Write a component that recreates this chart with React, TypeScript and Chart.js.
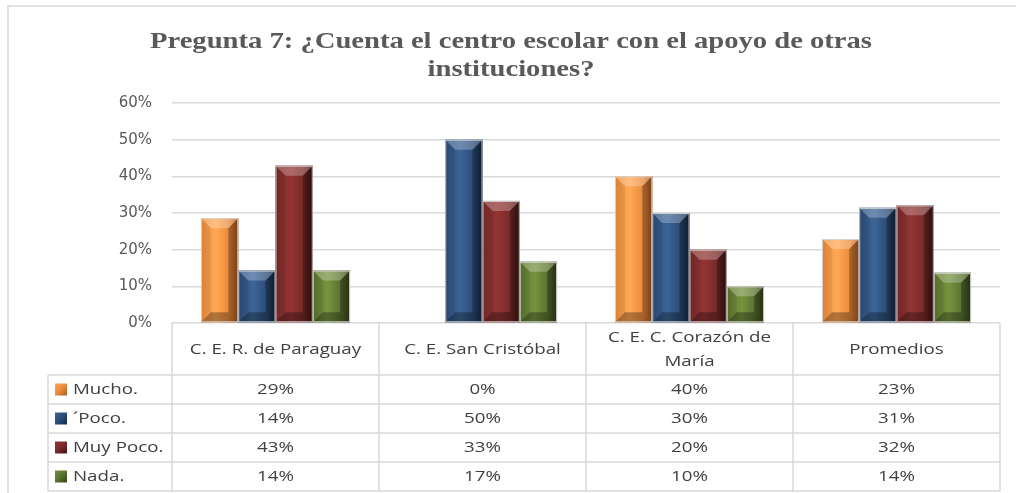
import React, { useEffect, useRef } from "react";
import { Chart, registerables } from "chart.js";

Chart.register(...registerables);

const titleLines = ["Pregunta 7: ¿Cuenta el centro escolar con el apoyo de otras", "instituciones?"];
const categories = ["C. E. R. de Paraguay", "C. E. San Cristóbal", "C. E. C. Corazón de María", "Promedios"];
const headerLines = [["C. E. R. de Paraguay"], ["C. E. San Cristóbal"], ["C. E. C. Corazón de", "María"], ["Promedios"]];
const seriesNames = ["Mucho.", "´Poco.", "Muy Poco.", "Nada."];
const mucho = [28.6, 0, 40, 22.9];
const poco = [14.3, 50, 30, 31.4];
const muyPoco = [42.9, 33.3, 20, 32.1];
const nada = [14.3, 16.7, 10, 13.7];
const yMin = 0;
const yMax = 60;
const yStep = 10;

const palette = [
  { base: "#EB8A3C", light: "#FFA955", dark: "#A85A22" },
  { base: "#2B4C78", light: "#3D6597", dark: "#152840" },
  { base: "#772A29", light: "#923534", dark: "#3E1212" },
  { base: "#5A7230", light: "#77943F", dark: "#34431A" },
];

const FONT = "'Open Sans', 'DejaVu Sans', sans-serif";
const TICK_FONT = "'DejaVu Sans', sans-serif";
const TEXT_SX = 1.25;

function drawText(ctx: any, text: string, x: number, y: number, align: "left" | "center") {
  ctx.save();
  ctx.translate(x, y);
  ctx.scale(TEXT_SX, 1);
  ctx.textAlign = align;
  ctx.fillText(text, 0, 0);
  ctx.restore();
}

const bevelPlugin = {
  id: "bevel",
  afterDatasetsDraw(chart: any) {
    const ctx = chart.ctx;
    chart.data.datasets.forEach((ds: any, di: number) => {
      const meta = chart.getDatasetMeta(di);
      const c = palette[di];
      meta.data.forEach((bar: any) => {
        const { x, y, base, width } = bar.getProps(["x", "y", "base", "width"], true);
        const l = x - width / 2;
        const r = x + width / 2;
        const t = Math.min(y, base);
        const b = Math.max(y, base);
        const h = b - t;
        if (h < 1) return;
        const d = Math.min(10, width * 0.27, h / 2);
        ctx.save();
        const g = ctx.createLinearGradient(l, 0, r, 0);
        g.addColorStop(0, c.base);
        g.addColorStop(0.4, c.light);
        g.addColorStop(0.75, c.base);
        g.addColorStop(1, c.dark);
        ctx.fillStyle = g;
        ctx.fillRect(l, t, width, h);
        // top bevel
        ctx.beginPath();
        ctx.moveTo(l, t);
        ctx.lineTo(r, t);
        ctx.lineTo(r - d, t + d);
        ctx.lineTo(l + d, t + d);
        ctx.closePath();
        ctx.fillStyle = "rgba(255,255,255,0.25)";
        ctx.fill();
        // left bevel
        ctx.beginPath();
        ctx.moveTo(l, t);
        ctx.lineTo(l + d, t + d);
        ctx.lineTo(l + d, b - d);
        ctx.lineTo(l, b);
        ctx.closePath();
        ctx.fillStyle = "rgba(0,0,0,0.06)";
        ctx.fill();
        // right bevel
        ctx.beginPath();
        ctx.moveTo(r, t);
        ctx.lineTo(r - d, t + d);
        ctx.lineTo(r - d, b - d);
        ctx.lineTo(r, b);
        ctx.closePath();
        ctx.fillStyle = "rgba(0,0,0,0.28)";
        ctx.fill();
        // bottom bevel
        ctx.beginPath();
        ctx.moveTo(l, b);
        ctx.lineTo(r, b);
        ctx.lineTo(r - d, b - d);
        ctx.lineTo(l + d, b - d);
        ctx.closePath();
        ctx.fillStyle = "rgba(0,0,0,0.3)";
        ctx.fill();
        ctx.strokeStyle = "rgba(215,215,215,0.9)";
        ctx.lineWidth = 1;
        ctx.strokeRect(l + 0.5, t + 0.5, width - 1, h - 1);
        ctx.restore();
      });
    });
  },
};

const tablePlugin = {
  id: "tableAndTitle",
  afterDraw(chart: any) {
    const ctx = chart.ctx;
    const area = chart.chartArea;
    const xs = chart.scales.x;
    ctx.save();
    // outer frame
    ctx.strokeStyle = "#D9D9D9";
    ctx.lineWidth = 1.5;
    ctx.strokeRect(8, 6, 1030, 520);

    // title
    ctx.fillStyle = "#595959";
    ctx.textAlign = "center";
    ctx.textBaseline = "middle";
    ctx.font = "bold 24px 'Liberation Serif', 'DejaVu Serif', serif";
    const w0 = ctx.measureText(titleLines[0]).width;
    const sx = 722 / w0;
    const cx = 511;
    [42, 70].forEach((yy, i) => {
      ctx.save();
      ctx.translate(cx, yy);
      ctx.scale(sx, 1);
      ctx.fillText(titleLines[i], 0, 0);
      ctx.restore();
    });

    // table grid
    const nCat = categories.length;
    const left = area.left;
    const right = area.right;
    const colW = (right - left) / nCat;
    const headTop = area.bottom;
    const headBot = headTop + 52;
    const rowH = 29;
    const legLeft = 48;
    const tableBot = headBot + rowH * seriesNames.length;

    ctx.strokeStyle = "#D9D9D9";
    ctx.lineWidth = 1.5;
    ctx.beginPath();
    for (let i = 0; i <= seriesNames.length; i++) {
      const yy = headBot + i * rowH;
      ctx.moveTo(legLeft, yy);
      ctx.lineTo(right, yy);
    }
    for (let i = 0; i <= nCat; i++) {
      const xx = left + i * colW;
      ctx.moveTo(xx, headTop);
      ctx.lineTo(xx, tableBot);
    }
    ctx.moveTo(legLeft, headBot);
    ctx.lineTo(legLeft, tableBot);
    ctx.stroke();

    // header text
    ctx.fillStyle = "#404040";
    ctx.font = `15px ${FONT}`;
    ctx.textBaseline = "middle";
    headerLines.forEach((lines, i) => {
      const xx = xs.getPixelForValue(i);
      const mid = (headTop + headBot) / 2 + 1;
      const lh = 24;
      lines.forEach((ln, k) => {
        drawText(ctx, ln, xx, mid + (k - (lines.length - 1) / 2) * lh, "center");
      });
    });

    // data rows
    chart.data.datasets.forEach((ds: any, di: number) => {
      const yy = headBot + di * rowH + rowH / 2;
      const c = palette[di];
      // legend key
      const kx = 55;
      const ks = 12;
      const ky = yy - ks / 2;
      const g = ctx.createLinearGradient(kx, ky, kx + ks, ky + ks);
      g.addColorStop(0, c.light);
      g.addColorStop(0.5, c.base);
      g.addColorStop(1, c.dark);
      ctx.fillStyle = g;
      ctx.fillRect(kx, ky, ks, ks);
      ctx.fillStyle = "#404040";
      drawText(ctx, seriesNames[di], 73, yy, "left");
      ds.data.forEach((v: number, i: number) => {
        drawText(ctx, Math.round(v) + "%", xs.getPixelForValue(i), yy, "center");
      });
    });
    ctx.restore();
  },
};

export default function App() {
  const ref = useRef<HTMLCanvasElement>(null);
  useEffect(() => {
    document.body.style.margin = "0";
    const seriesData = [mucho, poco, muyPoco, nada];
    const chart = new Chart(ref.current!, {
      type: "bar",
      data: {
        labels: categories,
        datasets: seriesNames.map((name, i) => ({
          label: name,
          data: seriesData[i],
          backgroundColor: palette[i].base,
          borderWidth: 0,
          categoryPercentage: 0.72,
          barPercentage: 1.0,
        })),
      },
      options: {
        animation: false,
        responsive: false,
        maintainAspectRatio: false,
        layout: { padding: { top: 103, right: 16, bottom: 170, left: 0 } },
        plugins: {
          legend: { display: false },
          title: { display: false },
          tooltip: { enabled: false },
        },
        scales: {
          x: { display: false },
          y: {
            min: yMin,
            max: yMax,
            border: { display: false },
            grid: { color: "#D9D9D9", lineWidth: 1.5, drawTicks: false },
            ticks: {
              stepSize: yStep,
              padding: 20,
              color: "#595959",
              font: { size: 15, family: TICK_FONT },
              callback: (v: any) => v + "%",
            },
            afterFit: (s: any) => {
              s.width = 172;
            },
          },
        },
      },
      plugins: [bevelPlugin, tablePlugin],
    });
    return () => chart.destroy();
  }, []);
  return (
    <div style={{ position: "absolute", left: 0, top: 0, width: 1016, height: 493, background: "#fff" }}>
      <canvas ref={ref} width={1016} height={493} style={{ width: 1016, height: 493, display: "block" }} />
    </div>
  );
}
